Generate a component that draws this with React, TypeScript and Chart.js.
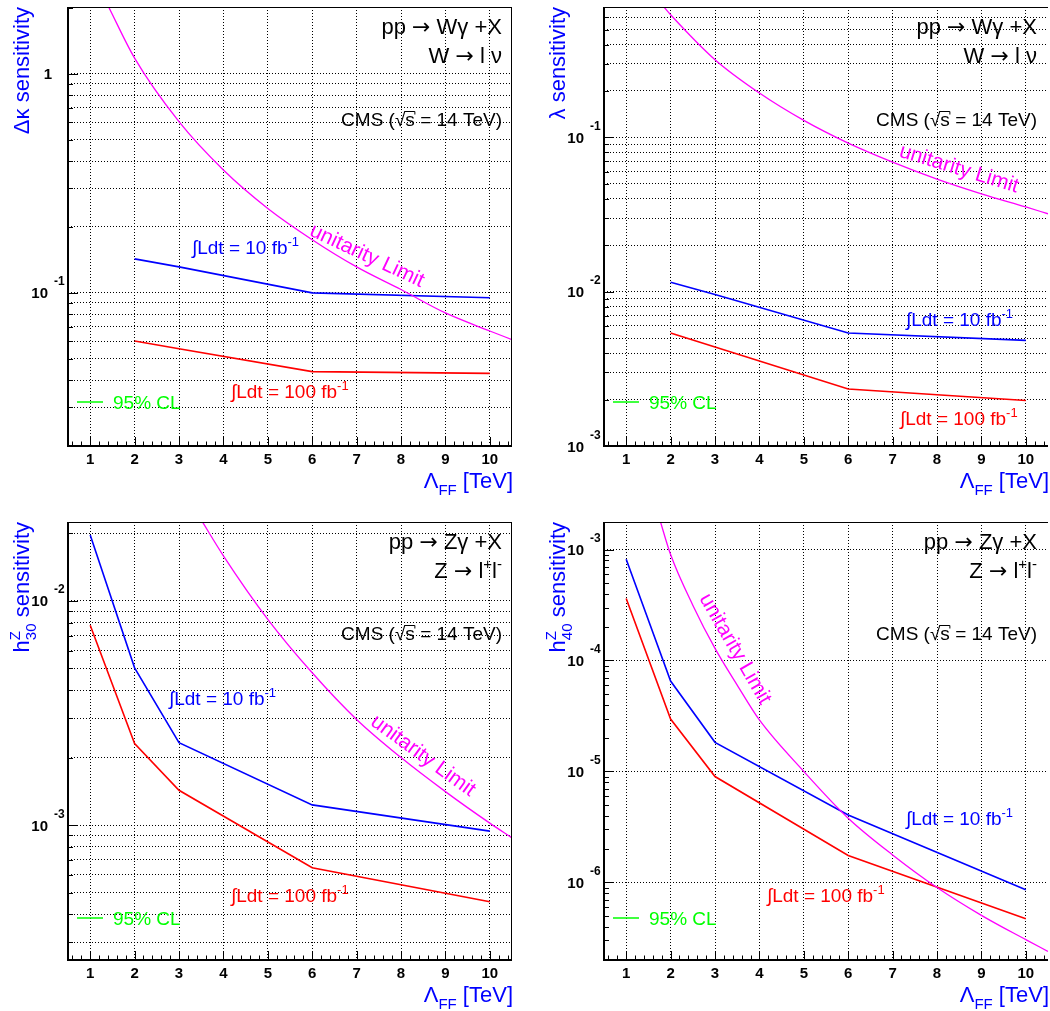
import React, { useEffect, useRef } from 'react';
import { Chart, registerables } from 'chart.js';

Chart.register(...registerables);

const FONT = "'Liberation Sans', Arial, Helvetica, sans-serif";
const ARROW_FONT = "'DejaVu Sans', sans-serif";

// ---------------- data ----------------
const X_TICKS = [1, 2, 3, 4, 5, 6, 7, 8, 9, 10];
const X_MIN = 0.5;
const X_MAX = 10.5;

const LAMBDA_W = [2, 3, 6, 10];
const LAMBDA_Z = [1, 2, 3, 6, 10];

// Delta kappa (W gamma)
const DKAPPA_10FB = [0.143, 0.1315, 0.1, 0.095];
const DKAPPA_100FB = [0.0603, 0.0556, 0.0437, 0.0429];
const DKAPPA_UNIT_X = [1.4, 2, 3, 4, 5, 6, 7, 8, 9, 10, 10.5];
const DKAPPA_UNIT = [2.05, 1.18, 0.605, 0.364, 0.243, 0.175, 0.1315, 0.1036, 0.081, 0.067, 0.0612];

// lambda (W gamma)
const LAMBDA_10FB = [0.0115, 0.0096, 0.0054, 0.00484];
const LAMBDA_100FB = [0.0054, 0.00438, 0.00234, 0.00197];
const LAMBDA_UNIT_X = [1.85, 2, 3, 4, 5, 6, 7, 8, 9, 10, 10.5];
const LAMBDA_UNIT = [0.7, 0.624, 0.319, 0.194, 0.129, 0.0919, 0.0692, 0.0537, 0.0431, 0.0354, 0.032];

// h30 Z (Z gamma)
const H30_10FB = [0.0197, 0.00503, 0.00233, 0.00123, 0.00094];
const H30_100FB = [0.00779, 0.00231, 0.00143, 0.000645, 0.000455];
const H30_UNIT_X = [3.5, 4, 5, 6, 7, 8, 9, 10, 10.5];
const H30_UNIT = [0.023, 0.0159, 0.00828, 0.00478, 0.00296, 0.002, 0.00141, 0.00102, 0.000877];

// h40 Z (Z gamma)
const H40_10FB = [8.18e-4, 6.53e-5, 1.83e-5, 4.06e-6, 8.6e-7];
const H40_100FB = [3.62e-4, 2.97e-5, 9.0e-6, 1.75e-6, 4.71e-7];
const H40_UNIT_X = [1.75, 2, 2.5, 3, 3.5, 4, 5, 6, 7, 8, 9, 10, 10.5];
const H40_UNIT = [1.9e-3, 9.0e-4, 3.15e-4, 1.285e-4, 6.0e-5, 2.91e-5, 1.0e-5, 3.79e-6, 1.77e-6, 9.0e-7, 5.05e-7, 3.05e-7, 2.39e-7];

// ---------------- text ----------------
type Seg = { t?: string; sup?: string; sub?: string; over?: boolean; f?: string };

const PROC_W: Seg[][] = [
  [{ t: 'pp ' }, { t: '→', f: ARROW_FONT }, { t: ' Wγ +X' }],
  [{ t: 'W ' }, { t: '→', f: ARROW_FONT }, { t: ' l ν' }],
];
const PROC_Z: Seg[][] = [
  [{ t: 'pp ' }, { t: '→', f: ARROW_FONT }, { t: ' Zγ +X' }],
  [{ t: 'Z ' }, { t: '→', f: ARROW_FONT }, { t: ' l' }, { sup: '+' }, { t: 'l' }, { sup: '-' }],
];
const CMS_TEXT: Seg[] = [{ t: 'CMS (' }, { t: '√' }, { t: 's', over: true }, { t: ' = 14 TeV)' }];
const LUMI_10: Seg[] = [{ t: '∫Ldt = 10 fb' }, { sup: '-1' }];
const LUMI_100: Seg[] = [{ t: '∫Ldt = 100 fb' }, { sup: '-1' }];
const UNIT_TEXT = 'unitarity Limit';
const CL_TEXT = '95% CL';
const X_TITLE: Seg[] = [{ t: 'Λ' }, { sub: 'FF' }, { t: ' [TeV]' }];

const BLUE = '#0000ff';
const RED = '#ff0000';
const MAGENTA = '#ff00ff';
const GREEN = '#00ff00';

interface PanelCfg {
  left: number; top: number; w: number; h: number;
  area: { l: number; t: number; r: number; b: number };
  yMin: number; yMax: number; minorGrid: boolean; rightBorder: boolean;
  yTitle: Seg[];
  xs: number[]; s10: number[]; s100: number[]; ux: number[]; uy: number[];
  proc: Seg[][]; procRight: number; procBase: number[]; cmsBase: number;
  blue: { x: number; y: number }; red: { x: number; y: number };
  unit: { x: number; y: number; a: number }; clY: number;
}

const PANELS: PanelCfg[] = [
  {
    left: 0, top: 0, w: 525, h: 505,
    area: { l: 68, t: 7, r: 512, b: 446 },
    yMin: 0.02, yMax: 2.02, minorGrid: true, rightBorder: true,
    yTitle: [{ t: 'Δκ sensitivity' }],
    xs: LAMBDA_W, s10: DKAPPA_10FB, s100: DKAPPA_100FB, ux: DKAPPA_UNIT_X, uy: DKAPPA_UNIT,
    proc: PROC_W, procRight: 502, procBase: [34, 63], cmsBase: 126,
    blue: { x: 192, y: 254 }, red: { x: 231, y: 398 },
    unit: { x: 367, y: 256, a: 25 }, clY: 402,
  },
  {
    left: 525, top: 0, w: 525, h: 505,
    area: { l: 79, t: 7, r: 523, b: 446 },
    yMin: 0.001, yMax: 0.7, minorGrid: true, rightBorder: false,
    yTitle: [{ t: 'λ sensitivity' }],
    xs: LAMBDA_W, s10: LAMBDA_10FB, s100: LAMBDA_100FB, ux: LAMBDA_UNIT_X, uy: LAMBDA_UNIT,
    proc: PROC_W, procRight: 512, procBase: [34, 63], cmsBase: 126,
    blue: { x: 381, y: 326 }, red: { x: 375, y: 425 },
    unit: { x: 434, y: 169, a: 17 }, clY: 402,
  },
  {
    left: 0, top: 505, w: 525, h: 506,
    area: { l: 68, t: 17, r: 512, b: 455 },
    yMin: 0.00025, yMax: 0.0225, minorGrid: true, rightBorder: true,
    yTitle: [{ t: 'h' }, { sup: 'Z', sub: '30' }, { t: ' sensitivity' }],
    xs: LAMBDA_Z, s10: H30_10FB, s100: H30_100FB, ux: H30_UNIT_X, uy: H30_UNIT,
    proc: PROC_Z, procRight: 502, procBase: [44, 73], cmsBase: 135,
    blue: { x: 169, y: 200 }, red: { x: 231, y: 397 },
    unit: { x: 423, y: 251, a: 36 }, clY: 413,
  },
  {
    left: 525, top: 505, w: 525, h: 506,
    area: { l: 79, t: 17, r: 523, b: 455 },
    yMin: 2e-7, yMax: 1.77e-3, minorGrid: false, rightBorder: false,
    yTitle: [{ t: 'h' }, { sup: 'Z', sub: '40' }, { t: ' sensitivity' }],
    xs: LAMBDA_Z, s10: H40_10FB, s100: H40_100FB, ux: H40_UNIT_X, uy: H40_UNIT,
    proc: PROC_Z, procRight: 512, procBase: [44, 73], cmsBase: 135,
    blue: { x: 381, y: 320 }, red: { x: 242, y: 397 },
    unit: { x: 210, y: 144, a: 60 }, clY: 413,
  },
];

// ---------------- helpers ----------------
function logValues(min: number, max: number, minor: boolean): number[] {
  const out: number[] = [];
  const e0 = Math.floor(Math.log10(min)) - 1;
  const e1 = Math.ceil(Math.log10(max)) + 1;
  for (let e = e0; e <= e1; e++) {
    for (let k = 1; k <= 9; k++) {
      if (!minor && k > 1) continue;
      const v = parseFloat((k * Math.pow(10, e)).toPrecision(6));
      if (v >= min * 0.9999 && v <= max * 1.0001) out.push(v);
    }
  }
  return out;
}

function drawRich(
  ctx: CanvasRenderingContext2D, segs: Seg[], x: number, y: number,
  align: 'left' | 'right' | 'center', size: number, color: string,
  weight = 'normal', ratio = 0.7,
) {
  const fontOf = (s: Seg, sz: number) => `${weight} ${sz}px ${s.f || FONT}`;
  const smallSize = Math.round(size * ratio);
  const ws = segs.map((s) => {
    if (s.t !== undefined) { ctx.font = fontOf(s, size); return ctx.measureText(s.t).width; }
    ctx.font = fontOf(s, smallSize);
    return Math.max(s.sup ? ctx.measureText(s.sup).width : 0, s.sub ? ctx.measureText(s.sub).width : 0);
  });
  const total = ws.reduce((a, b) => a + b, 0);
  let cx = align === 'right' ? x - total : align === 'center' ? x - total / 2 : x;
  ctx.fillStyle = color;
  ctx.strokeStyle = color;
  ctx.textAlign = 'left';
  ctx.textBaseline = 'alphabetic';
  segs.forEach((s, i) => {
    if (s.t !== undefined) {
      ctx.font = fontOf(s, size);
      ctx.fillText(s.t, cx, y);
      if (s.over) {
        ctx.lineWidth = 1;
        const oy = Math.round(y - size * 0.8) + 0.5;
        ctx.beginPath();
        ctx.moveTo(cx - 1, oy);
        ctx.lineTo(cx + ws[i], oy);
        ctx.lineTo(cx + ws[i], oy + 3);
        ctx.stroke();
      }
    } else {
      ctx.font = fontOf(s, smallSize);
      if (s.sup) ctx.fillText(s.sup, cx, y - size * 0.42);
      if (s.sub) ctx.fillText(s.sub, cx, y + size * 0.3);
    }
    cx += ws[i];
  });
}

function decorPlugin(p: PanelCfg) {
  return {
    id: 'decor',
    afterDraw(chart: any) {
      const ctx: CanvasRenderingContext2D = chart.ctx;
      const a = chart.chartArea;
      const xs = chart.scales.x;
      const ys = chart.scales.y;
      ctx.save();

      // frame
      ctx.strokeStyle = '#000';
      ctx.lineWidth = 1;
      ctx.beginPath();
      ctx.moveTo(a.left, a.top + 0.5);
      ctx.lineTo(a.right, a.top + 0.5);
      if (p.rightBorder) {
        ctx.moveTo(a.right - 0.5, a.top);
        ctx.lineTo(a.right - 0.5, a.bottom);
      }
      ctx.stroke();
      ctx.lineWidth = 2;
      ctx.beginPath();
      ctx.moveTo(a.left, a.top);
      ctx.lineTo(a.left, a.bottom + 1);
      ctx.moveTo(a.left - 1, a.bottom);
      ctx.lineTo(a.right, a.bottom);
      ctx.stroke();

      // x ticks (inward)
      ctx.lineWidth = 1;
      ctx.beginPath();
      for (let i = 3; i <= 52; i++) {
        const v = i / 5;
        const px = Math.round(xs.getPixelForValue(v)) + 0.5;
        const len = i % 5 === 0 ? 9 : 4.5;
        ctx.moveTo(px, a.bottom);
        ctx.lineTo(px, a.bottom - len);
      }
      // y ticks (inward)
      logValues(p.yMin, p.yMax, true).forEach((v) => {
        const py = Math.round(ys.getPixelForValue(v)) + 0.5;
        const major = Math.abs(Math.log10(v) - Math.round(Math.log10(v))) < 1e-6;
        ctx.moveTo(a.left, py);
        ctx.lineTo(a.left + (major ? 10 : 5), py);
      });
      ctx.stroke();

      // x tick labels
      ctx.fillStyle = '#000';
      ctx.font = `bold 15px ${FONT}`;
      ctx.textAlign = 'center';
      ctx.textBaseline = 'alphabetic';
      X_TICKS.forEach((v) => {
        ctx.fillText(String(v), xs.getPixelForValue(v), a.bottom + 18);
      });

      // y tick labels
      logValues(p.yMin, p.yMax, false).forEach((v) => {
        const e = Math.round(Math.log10(v));
        const py = ys.getPixelForValue(v);
        ctx.fillStyle = '#000';
        ctx.textBaseline = 'alphabetic';
        if (e === 0) {
          ctx.font = `bold 15px ${FONT}`;
          ctx.textAlign = 'right';
          ctx.fillText('1', a.left - 16, py + 5.5);
        } else {
          ctx.font = `bold 15px ${FONT}`;
          ctx.textAlign = 'right';
          ctx.fillText('10', a.left - 20, py + 5.5);
          ctx.font = `bold 12px ${FONT}`;
          ctx.textAlign = 'left';
          ctx.fillText(String(e), a.left - 14, py - 7.5);
        }
      });

      // axis titles
      ctx.save();
      ctx.translate(a.left - 39, a.top);
      ctx.rotate(-Math.PI / 2);
      drawRich(ctx, p.yTitle, 0, 0, 'right', 22, BLUE);
      ctx.restore();
      drawRich(ctx, X_TITLE, a.right + 1, a.bottom + 42, 'right', 22, BLUE);

      // process labels
      drawRich(ctx, p.proc[0], p.procRight, p.procBase[0], 'right', 22, '#000');
      drawRich(ctx, p.proc[1], p.procRight, p.procBase[1], 'right', 22, '#000');
      drawRich(ctx, CMS_TEXT, p.procRight, p.cmsBase, 'right', 19, '#000');

      // luminosity labels
      drawRich(ctx, LUMI_10, p.blue.x, p.blue.y, 'left', 19, BLUE);
      drawRich(ctx, LUMI_100, p.red.x, p.red.y, 'left', 19, RED);

      // unitarity label
      ctx.save();
      ctx.translate(p.unit.x, p.unit.y);
      ctx.rotate((p.unit.a * Math.PI) / 180);
      ctx.font = `21px ${FONT}`;
      ctx.fillStyle = MAGENTA;
      ctx.textAlign = 'center';
      ctx.textBaseline = 'middle';
      ctx.fillText(UNIT_TEXT, 0, 0);
      ctx.restore();

      // 95% CL legend
      ctx.strokeStyle = GREEN;
      ctx.lineWidth = 1.5;
      ctx.beginPath();
      ctx.moveTo(a.left + 9, p.clY);
      ctx.lineTo(a.left + 35, p.clY);
      ctx.stroke();
      ctx.font = `19px ${FONT}`;
      ctx.fillStyle = GREEN;
      ctx.textAlign = 'left';
      ctx.textBaseline = 'alphabetic';
      ctx.fillText(CL_TEXT, a.left + 45, p.clY + 7);

      ctx.restore();
    },
  };
}

function toPoints(xs: number[], ys: number[]) {
  return xs.map((x, i) => ({ x, y: ys[i] }));
}

function PanelChart({ p }: { p: PanelCfg }) {
  const ref = useRef<HTMLCanvasElement | null>(null);
  useEffect(() => {
    const canvas = ref.current;
    if (!canvas) return;
    const yGrid = logValues(p.yMin, p.yMax, p.minorGrid);
    const chart = new Chart(canvas, {
      type: 'line',
      data: {
        datasets: [
          {
            label: 'unitarity Limit',
            data: toPoints(p.ux, p.uy),
            borderColor: MAGENTA,
            borderWidth: 1.3,
            pointRadius: 0,
            fill: false,
            cubicInterpolationMode: 'monotone',
          },
          {
            label: '10 fb-1',
            data: toPoints(p.xs, p.s10),
            borderColor: BLUE,
            borderWidth: 1.6,
            pointRadius: 0,
            fill: false,
            tension: 0,
          },
          {
            label: '100 fb-1',
            data: toPoints(p.xs, p.s100),
            borderColor: RED,
            borderWidth: 1.6,
            pointRadius: 0,
            fill: false,
            tension: 0,
          },
        ],
      },
      options: {
        animation: false,
        responsive: false,
        maintainAspectRatio: false,
        events: [],
        layout: {
          padding: { left: p.area.l, top: p.area.t, right: p.w - p.area.r, bottom: p.h - p.area.b },
        },
        plugins: { legend: { display: false }, tooltip: { enabled: false } },
        scales: {
          x: {
            type: 'linear',
            min: X_MIN,
            max: X_MAX,
            afterBuildTicks: (s: any) => { s.ticks = X_TICKS.map((v) => ({ value: v })); },
            afterFit: (s: any) => { s.height = 0; },
            ticks: { display: false },
            grid: { color: '#000', lineWidth: 1, drawTicks: false },
            border: { display: false, dash: [1, 2] },
          },
          y: {
            type: 'logarithmic',
            min: p.yMin,
            max: p.yMax,
            afterBuildTicks: (s: any) => { s.ticks = yGrid.map((v) => ({ value: v })); },
            afterFit: (s: any) => { s.width = 0; },
            ticks: { display: false },
            grid: { color: '#000', lineWidth: 1, drawTicks: false },
            border: { display: false, dash: [1, 2] },
          },
        },
      } as any,
      plugins: [decorPlugin(p)],
    });
    return () => chart.destroy();
  }, [p]);
  return (
    <canvas
      ref={ref}
      width={p.w}
      height={p.h}
      style={{ position: 'absolute', left: p.left, top: p.top, width: p.w, height: p.h }}
    />
  );
}

export default function App() {
  return (
    <div style={{ position: 'absolute', left: 0, top: 0, width: 1050, height: 1011, background: '#fff', overflow: 'hidden' }}>
      {PANELS.map((p, i) => (
        <PanelChart key={i} p={p} />
      ))}
    </div>
  );
}
